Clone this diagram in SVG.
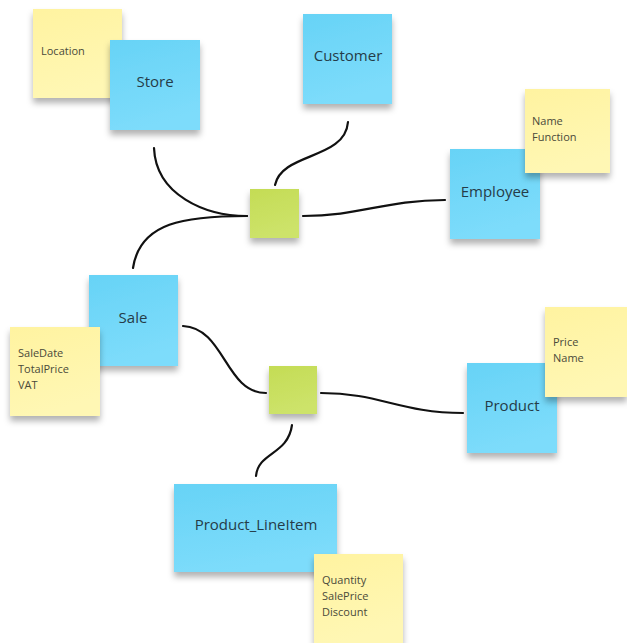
<svg xmlns="http://www.w3.org/2000/svg" width="627" height="643" viewBox="0 0 627 643">
<defs>
<linearGradient id="gb" x1="0" y1="0" x2="0.3" y2="1"><stop offset="0" stop-color="#67d3f6"/><stop offset="1" stop-color="#7ddcfb"/></linearGradient>
<linearGradient id="gy" x1="0" y1="0" x2="0.3" y2="1"><stop offset="0" stop-color="#fff3a0"/><stop offset="1" stop-color="#fff7b4"/></linearGradient>
<linearGradient id="gg" x1="0" y1="0" x2="0.3" y2="1"><stop offset="0" stop-color="#c4dc55"/><stop offset="1" stop-color="#cde36a"/></linearGradient>
<filter id="sh" x="-20%" y="-20%" width="140%" height="150%"><feDropShadow dx="0" dy="5" stdDeviation="3" flood-color="#000" flood-opacity="0.3"/></filter>
</defs>
<style>
.b{fill:url(#gb);filter:url(#sh)}
.y{fill:url(#gy);filter:url(#sh)}
.g{fill:url(#gg);filter:url(#sh)}
.t{font-family:"Open Sans","Liberation Sans",sans-serif;font-size:15px;fill:#253c48;text-anchor:middle}
.s{font-family:"Open Sans","Liberation Sans",sans-serif;font-size:11px;fill:#4a4a3a}
.c{fill:none;stroke:#111;stroke-width:2.2;stroke-linecap:round}
</style>
<rect width="627" height="643" fill="#fff"/>
<g id="connectors">
<path class="c" d="M154,148 C156,195 205,216 247,216"/>
<path class="c" d="M133,268 C140,222 185,216 247,216"/>
<path class="c" d="M348,122 C345,160 282,152 275,185"/>
<path class="c" d="M303,216 C360,216 385,200 445,200"/>
<path class="c" d="M183,326 C225,328 225,393 266,393"/>
<path class="c" d="M321,393 C380,393 400,413 463,413"/>
<path class="c" d="M292,425 C288,455 258,452 256,476"/>
</g>
<g id="note-location"><rect class="y" x="33" y="9" width="89" height="89"/><text class="s" x="41" y="55">Location</text></g>
<g id="store"><rect class="b" x="110" y="40" width="90" height="90"/><text class="t" x="155" y="87">Store</text></g>
<g id="customer"><rect class="b" x="303" y="14" width="89" height="90"/><text class="t" x="348" y="61">Customer</text></g>
<g id="employee"><rect class="b" x="450" y="149" width="90" height="90"/><text class="t" x="495" y="197">Employee</text></g>
<g id="note-employee"><rect class="y" x="525" y="89" width="85" height="84"/><text class="s" x="532" y="125">Name</text><text class="s" x="532" y="141">Function</text></g>
<g id="rel1"><rect class="g" x="250" y="189" width="49" height="49"/></g>
<g id="sale"><rect class="b" x="89" y="275" width="89" height="91"/><text class="t" x="133" y="323">Sale</text></g>
<g id="note-sale"><rect class="y" x="10" y="327" width="90" height="89"/><text class="s" x="18" y="357">SaleDate</text><text class="s" x="18" y="373">TotalPrice</text><text class="s" x="18" y="389">VAT</text></g>
<g id="rel2"><rect class="g" x="269" y="366" width="48" height="48"/></g>
<g id="product"><rect class="b" x="467" y="363" width="90" height="90"/><text class="t" x="512" y="411">Product</text></g>
<g id="note-product"><rect class="y" x="545" y="307" width="82" height="90"/><text class="s" x="553" y="346">Price</text><text class="s" x="553" y="362">Name</text></g>
<g id="product-lineitem"><rect class="b" x="174" y="484" width="163" height="88"/><text class="t" x="256" y="530">Product_LineItem</text></g>
<g id="note-lineitem"><rect class="y" x="314" y="554" width="89" height="89"/><text class="s" x="322" y="584">Quantity</text><text class="s" x="322" y="600">SalePrice</text><text class="s" x="322" y="616">Discount</text></g>
</svg>
